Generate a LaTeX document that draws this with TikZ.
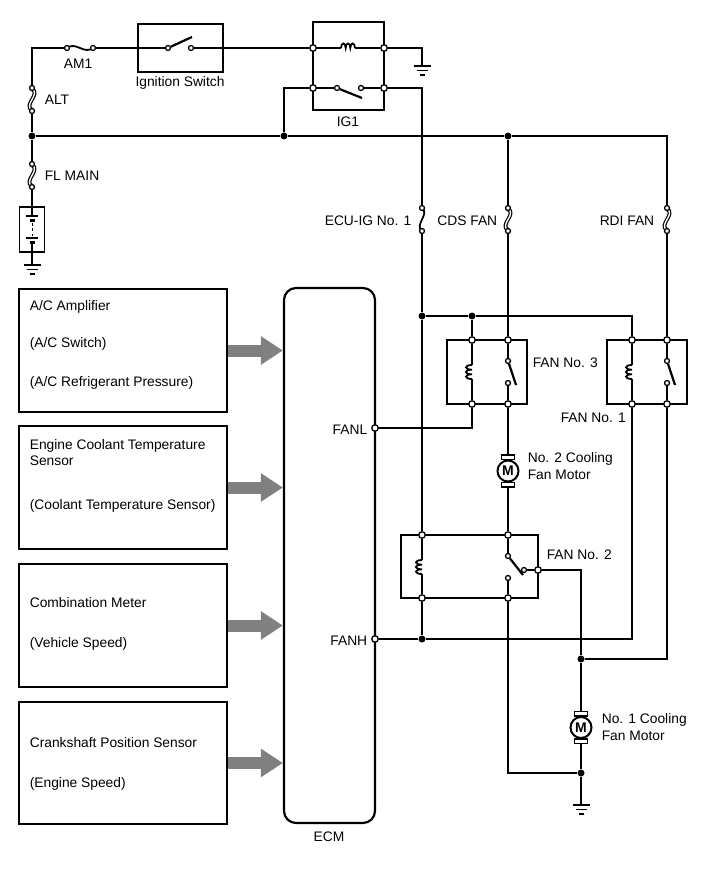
\documentclass[tikz,border=0pt]{standalone}
\usepackage{fontspec}
\setmainfont{Liberation Sans}
\usetikzlibrary{arrows.meta}
\definecolor{feedgray}{RGB}{128,128,128}

\begin{document}
\begin{tikzpicture}[x=1pt,y=-1pt,line width=1.6pt,
    every node/.style={font=\fontsize{13.8}{16}\selectfont},
    term/.style={circle,draw,fill=white,line width=1.3pt,inner sep=0pt,minimum size=6.5pt},
    pin/.style={term,minimum size=5pt},
    jdot/.style={circle,fill,inner sep=0pt,minimum size=7pt},
    unit/.style={draw,line width=1.8pt,inner sep=0pt},
    relay/.style={line width=1.8pt},
    blade/.style={line width=2.2pt},
    plate/.style={line width=3pt},
    motor/.style={circle,draw,fill=white,line width=2pt,inner sep=0pt,minimum size=21pt,
        font=\fontsize{14}{14}\bfseries\selectfont},
    txt/.style={inner sep=0pt,anchor=base west},
    rtxt/.style={inner sep=0pt,anchor=base east},
    ctxt/.style={inner sep=0pt,anchor=base},
    feed/.style={feedgray,line width=12pt,-{Triangle[length=22pt,width=27pt]}},
    fusev/.pic={\draw[line width=1.8pt] (0,0) .. controls (8,6) and (-8,17) .. (0,23);},
    linkv/.pic={\draw[double,double distance=1.4pt,line width=1.2pt] (0,1) .. controls (9,6) and (-9,17) .. (0,22);},
    fuseh/.pic={\draw[line width=1.8pt] (0,0) .. controls (9,-7) and (17,7) .. (26,0);},
    coilh/.pic={\draw[line width=1.8pt] (-7,0) .. controls (-7,-6) and (-2.3,-6) .. (-2.3,0)
        .. controls (-2.3,-6) and (2.3,-6) .. (2.3,0) .. controls (2.3,-6) and (7,-6) .. (7,0);
        \coordinate (-a) at (-7,0); \coordinate (-b) at (7,0);},
    coilv/.pic={\draw[line width=1.8pt] (0,-7) .. controls (-8,-7) and (-8,-2.3) .. (0,-2.3)
        .. controls (-8,-2.3) and (-8,2.3) .. (0,2.3) .. controls (-8,2.3) and (-8,7) .. (0,7);
        \coordinate (-a) at (0,-7); \coordinate (-b) at (0,7);},
    gnd/.pic={\draw[line width=1.8pt] (-8.5,0) -- (8.5,0) (-5.5,4.5) -- (5.5,4.5) (-2.5,9) -- (2.5,9);}]
    \useasboundingbox (0,0) rectangle (713,882);
    % boxes
    \draw[relay] (138,24) rectangle (223,72);
    \draw[relay] (313,22) rectangle (384,110);
    \draw[relay] (447,340) rectangle (527,404);
    \draw[relay] (607,340) rectangle (687,404);
    \draw[relay] (401,535) rectangle (538,598);
    \node[unit,minimum width=25pt,minimum height=45pt] (bat) at (32,229.5) {};
    \node[unit,minimum width=208pt,minimum height=123pt] (amp) at (123,350.5) {};
    \node[unit,minimum width=208pt,minimum height=123pt] (ect) at (123,487.5) {};
    \node[unit,minimum width=208pt,minimum height=123pt] (cmb) at (123,625.5) {};
    \node[unit,minimum width=208pt,minimum height=122pt] (ckp) at (123,763) {};
    \node[unit,line width=2.2pt,rounded corners=12pt,minimum width=91pt,minimum height=535pt] (ecm) at (329.5,555.5) {};
    % fuses, coils, grounds
    \pic at (67,48) {fuseh};
    \pic at (32,88) {linkv};
    \pic at (32,164) {linkv};
    \pic at (422,208) {fusev};
    \pic at (508,208) {linkv};
    \pic at (667,208) {linkv};
    \pic (c0) at (348,48) {coilh};
    \pic (c3) at (472,372) {coilv};
    \pic (c1) at (632,372) {coilv};
    \pic (c2) at (422,567) {coilv};
    \coordinate (g0) at (32,265);
    \coordinate (g1) at (422,66);
    \coordinate (g2) at (581,805);
    \pic at (g0) {gnd};
    \pic at (g1) {gnd};
    \pic at (g2) {gnd};
    % battery
    \draw (bat.north) -- (32,216);
    \draw (26,216) -- (38,216);
    \draw[plate] (29.5,220.5) -- (34.5,220.5);
    \draw[line width=1pt,dash pattern=on 3pt off 2.5pt] (32,223) -- (32,236);
    \draw (26,238) -- (38,238);
    \draw[plate] (29.5,242.5) -- (34.5,242.5);
    \draw (32,242.5) -- (bat.south);
    % motors
    \node[motor] (m2) at (508,471) {M};
    \node[motor] (m1) at (581,727.5) {M};
    \draw[line width=1.4pt,fill=white] ([xshift=-6.5pt]m2.north) rectangle ([xshift=6.5pt,yshift=4.5pt]m2.north);
    \draw[line width=1.4pt,fill=white] ([xshift=-6.5pt]m2.south) rectangle ([xshift=6.5pt,yshift=-4.5pt]m2.south);
    \draw[line width=1.4pt,fill=white] ([xshift=-6.5pt]m1.north) rectangle ([xshift=6.5pt,yshift=4.5pt]m1.north);
    \draw[line width=1.4pt,fill=white] ([xshift=-6.5pt]m1.south) rectangle ([xshift=6.5pt,yshift=-4.5pt]m1.south);
    \coordinate (m2-t) at ([yshift=4.5pt]m2.north);
    \coordinate (m2-b) at ([yshift=-4.5pt]m2.south);
    \coordinate (m1-t) at ([yshift=4.5pt]m1.north);
    \coordinate (m1-b) at ([yshift=-4.5pt]m1.south);
    % terminals
    \path (313,48) node[term] (ig1ca) {} (384,48) node[term] (ig1cb) {}
          (313,88) node[term] (ig1sa) {} (384,88) node[term] (ig1sb) {};
    \path (472,340) node[term] (f3ct) {} (472,404) node[term] (f3cb) {}
          (508,340) node[term] (f3st) {} (508,404) node[term] (f3sb) {};
    \path (632,340) node[term] (f1ct) {} (632,404) node[term] (f1cb) {}
          (667,340) node[term] (f1st) {} (667,404) node[term] (f1sb) {};
    \path (422,535) node[term] (f2ct) {} (422,598) node[term] (f2cb) {}
          (508,535) node[term] (f2st) {} (508,598) node[term] (f2sb) {}
          (538,570) node[term] (f2out) {};
    \path (375,428) node[term] (fanl) {} (375,639) node[term] (fanh) {};
    \path (67,48) node[pin] (am1a) {} (93,48) node[pin] (am1b) {}
          (168,48) node[pin] (ign1) {} (191,48) node[pin] (ign2) {}
          (337,88) node[pin] (ig1k1) {} (361,88) node[pin] (ig1k2) {}
          (32,88) node[pin] (alta) {} (32,111) node[pin] (altb) {}
          (32,164) node[pin] (fla) {} (32,187) node[pin] (flb) {}
          (422,208) node[pin] (ecua) {} (422,231) node[pin] (ecub) {}
          (508,208) node[pin] (cdsa) {} (508,231) node[pin] (cdsb) {}
          (667,208) node[pin] (rdia) {} (667,231) node[pin] (rdib) {};
    \path (508,361) node[pin] (f3k1) {} (508,383) node[pin] (f3k2) {}
          (667,361) node[pin] (f1k1) {} (667,383) node[pin] (f1k2) {}
          (508,556) node[pin] (f2k1) {} (508,578) node[pin] (f2k2) {}
          (524,570) node[pin] (f2k3) {};
    \path (32,136) node[jdot] (jbat) {} (284,136) node[jdot] (jig) {}
          (508,136) node[jdot] (jcds) {} (422,316) node[jdot] (jecu) {}
          (472,316) node[jdot] (jf3) {} (422,639) node[jdot] (jfanh) {}
          (581,659) node[jdot] (jm1) {} (581,773) node[jdot] (jgnd) {};
    % wiring
    \draw (alta) |- (am1a);
    \draw (am1b) -- (ign1);
    \draw (ign2) -- (ig1ca);
    \draw (ig1ca) -- (c0-a) (c0-b) -- (ig1cb);
    \draw (ig1sa) -- (ig1k1) (ig1k2) -- (ig1sb);
    \draw (ig1cb) -| (g1);
    \draw (ig1sa) -| (jig);
    \draw (ig1sb) -| (ecua);
    \draw (altb) -- (jbat) -- (fla);
    \draw (flb) -- (bat);
    \draw (bat) -- (g0);
    \draw (jbat) -- (jig) -- (jcds) -| (rdia);
    \draw (jcds) -- (cdsa);
    \draw (ecub) -- (jecu) -- (f2ct);
    \draw (jecu) -- (jf3) -| (f1ct);
    \draw (jf3) -- (f3ct);
    \draw (cdsb) -- (f3st);
    \draw (rdib) -- (f1st);
    \draw (f3ct) -- (c3-a) (c3-b) -- (f3cb);
    \draw (f3st) -- (f3k1) (f3k2) -- (f3sb);
    \draw (f1ct) -- (c1-a) (c1-b) -- (f1cb);
    \draw (f1st) -- (f1k1) (f1k2) -- (f1sb);
    \draw (f2ct) -- (c2-a) (c2-b) -- (f2cb);
    \draw (f2st) -- (f2k1) (f2k2) -- (f2sb);
    \draw (f2k3) -- (f2out);
    \draw (f3cb) |- (fanl);
    \draw (f3sb) -- (m2-t);
    \draw (m2-b) -- (f2st);
    \draw (f2cb) -- (jfanh);
    \draw (fanh) -- (jfanh) -| (f1cb);
    \draw (f2out) -| (jm1);
    \draw (jm1) -| (f1sb);
    \draw (jm1) -- (m1-t);
    \draw (m1-b) -- (jgnd) -- (g2);
    \draw (f2sb) |- (jgnd);
    % switch blades
    \coordinate (ignb) at (192,37);
    \coordinate (ig1b) at (362,98);
    \coordinate (f3b) at (516,385);
    \coordinate (f1b) at (675,385);
    \coordinate (f2b) at (523,575);
    \draw[blade] (ign1) -- (ignb);
    \draw[blade] (ig1k1) -- (ig1b);
    \draw[blade] (f3k1) -- (f3b);
    \draw[blade] (f1k1) -- (f1b);
    \draw[blade] (f2k1) -- (f2b);
    % inputs to ECM
    \draw[feed] (amp.east) -- (amp.east -| ecm.west);
    \draw[feed] (ect.east) -- (ect.east -| ecm.west);
    \draw[feed] (cmb.east) -- (cmb.east -| ecm.west);
    \draw[feed] (ckp.east) -- (ckp.east -| ecm.west);
    % labels
    \node[ctxt] (lam1) at (78,69) {AM1};
    \node[ctxt] (lign) at (180,87) {Ignition Switch};
    \node[txt] (lalt) at (44,105) {ALT};
    \node[txt] (lfl) at (44,181) {FL MAIN};
    \node[ctxt] (lig1) at (348,127) {IG1};
    \node[rtxt] (lecu) at (412,226) {ECU-IG No. 1};
    \node[rtxt] (lcds) at (498,226) {CDS FAN};
    \node[rtxt] (lrdi) at (655,226) {RDI FAN};
    \node[txt] (lf3) at (532,367) {FAN No. 3};
    \node[txt] (lf1) at (560,422) {FAN No. 1};
    \node[txt] (lm2a) at (527,462) {No. 2 Cooling};
    \node[txt] (lm2b) at (527,479) {Fan Motor};
    \node[txt] (lf2) at (546,559) {FAN No. 2};
    \node[txt] (lm1a) at (601,723) {No. 1 Cooling};
    \node[txt] (lm1b) at (601,740) {Fan Motor};
    \node[rtxt] (lfanl) at (368,434) {FANL};
    \node[rtxt] (lfanh) at (368,645) {FANH};
    \node[ctxt] (lecm) at (329,841) {ECM};
    \node[txt] (tamp1) at (29,310) {A/C Amplifier};
    \node[txt] (tamp2) at (29,347) {(A/C Switch)};
    \node[txt] (tamp3) at (29,386) {(A/C Refrigerant Pressure)};
    \node[txt] (tect1) at (29,449) {Engine Coolant Temperature};
    \node[txt] (tect2) at (29,465) {Sensor};
    \node[txt] (tect3) at (29,509) {(Coolant Temperature Sensor)};
    \node[txt] (tcmb1) at (29,607) {Combination Meter};
    \node[txt] (tcmb2) at (29,647) {(Vehicle Speed)};
    \node[txt] (tckp1) at (29,747) {Crankshaft Position Sensor};
    \node[txt] (tckp2) at (29,787) {(Engine Speed)};
\end{tikzpicture}
\end{document}
